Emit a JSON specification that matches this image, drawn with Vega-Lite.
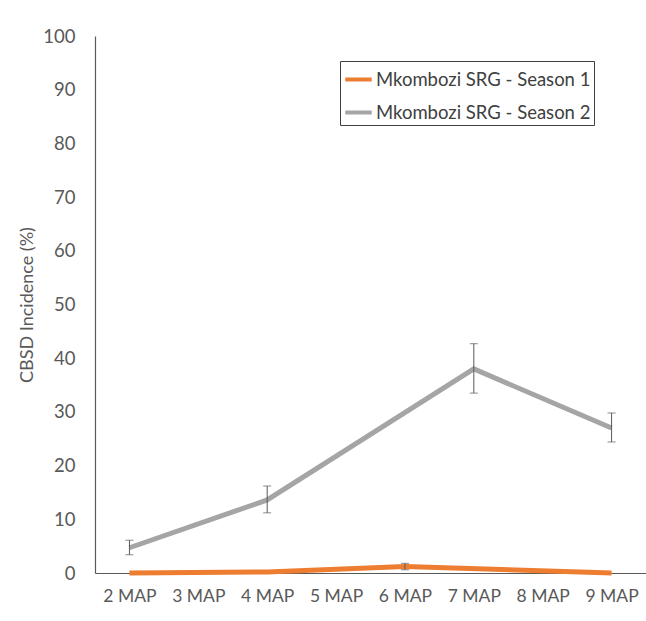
{
  "$schema": "https://vega.github.io/schema/vega-lite/v6.json",
  "autosize": "none",
  "width": 551,
  "height": 537,
  "padding": {"left": 95, "top": 36, "right": 0, "bottom": 48},
  "background": "white",
  "config": {
    "font": "Lato",
    "view": {"stroke": null},
    "axis": {"labelFont": "Lato", "titleFont": "Lato", "labelColor": "#595959", "titleColor": "#595959"}
  },
  "data": {
    "values": [
      {"time": "2 MAP", "series": "Mkombozi SRG - Season 1", "value": 0},
      {"time": "4 MAP", "series": "Mkombozi SRG - Season 1", "value": 0.2},
      {"time": "6 MAP", "series": "Mkombozi SRG - Season 1", "value": 1.2, "lo": 0.6, "hi": 1.8},
      {"time": "9 MAP", "series": "Mkombozi SRG - Season 1", "value": 0},
      {"time": "2 MAP", "series": "Mkombozi SRG - Season 2", "value": 4.7, "lo": 3.4, "hi": 6.1},
      {"time": "4 MAP", "series": "Mkombozi SRG - Season 2", "value": 13.6, "lo": 11.2, "hi": 16.2},
      {"time": "7 MAP", "series": "Mkombozi SRG - Season 2", "value": 38.0, "lo": 33.5, "hi": 42.7},
      {"time": "9 MAP", "series": "Mkombozi SRG - Season 2", "value": 27.0, "lo": 24.4, "hi": 29.8}
    ]
  },
  "encoding": {
    "x": {
      "field": "time", "type": "nominal",
      "sort": ["2 MAP", "3 MAP", "4 MAP", "5 MAP", "6 MAP", "7 MAP", "8 MAP", "9 MAP"],
      "scale": {"type": "point", "padding": 0.5, "domain": ["2 MAP", "3 MAP", "4 MAP", "5 MAP", "6 MAP", "7 MAP", "8 MAP", "9 MAP"]},
      "axis": {"title": null, "labelAngle": 0, "labelFontSize": 17.5, "ticks": false, "labelPadding": 14, "domainColor": "#595959", "domainWidth": 1.2, "grid": false}
    }
  },
  "layer": [
    {
      "mark": {"type": "line", "strokeWidth": 5},
      "encoding": {
        "y": {
          "field": "value", "type": "quantitative",
          "scale": {"domain": [0, 100], "nice": false},
          "axis": {"title": "CBSD Incidence (%)", "titleFontSize": 18, "titleFontWeight": "normal", "titlePadding": 6, "values": [0, 10, 20, 30, 40, 50, 60, 70, 80, 90, 100], "labelFontSize": 18.5, "ticks": false, "labelPadding": 20, "grid": false, "domainColor": "#595959", "domainWidth": 1.2}
        },
        "color": {
          "field": "series", "type": "nominal",
          "scale": {"domain": ["Mkombozi SRG - Season 1", "Mkombozi SRG - Season 2"], "range": ["#ED7D31", "#A5A5A5"]},
          "legend": {
            "title": null, "orient": "none", "legendX": 245, "legendY": 25,
            "symbolType": "stroke", "symbolStrokeWidth": 4, "symbolSize": 700,
            "labelFontSize": 18.5, "labelColor": "#404040", "labelFont": "Lato", "labelLimit": 0,
            "strokeColor": "#404040", "padding": 3, "rowPadding": 8,
            "labelOffset": 2, "fillColor": "white"
          }
        }
      }
    },
    {
      "mark": {"type": "rule", "color": "#595959", "strokeWidth": 1},
      "transform": [{"filter": "isValid(datum.lo)"}],
      "encoding": {
        "y": {"field": "lo", "type": "quantitative"},
        "y2": {"field": "hi"}
      }
    },
    {
      "mark": {"type": "tick", "color": "#595959", "thickness": 1, "size": 8, "orient": "horizontal"},
      "transform": [{"filter": "isValid(datum.lo)"}],
      "encoding": {"y": {"field": "lo", "type": "quantitative"}}
    },
    {
      "mark": {"type": "tick", "color": "#595959", "thickness": 1, "size": 8, "orient": "horizontal"},
      "transform": [{"filter": "isValid(datum.hi)"}],
      "encoding": {"y": {"field": "hi", "type": "quantitative"}}
    }
  ]
}
